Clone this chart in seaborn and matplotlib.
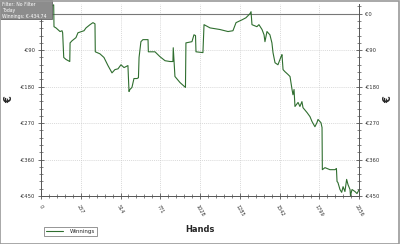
import matplotlib
matplotlib.use("Agg")
import matplotlib.pyplot as plt
import matplotlib.patches as mpatches
from matplotlib.ticker import AutoMinorLocator
import seaborn as sns
import pandas as pd

hands = [0, 20, 45, 65, 82, 84, 97, 123, 136, 140, 147, 162, 186, 188, 200, 226, 239, 278, 291, 317,
         336, 349, 351, 381, 407, 433, 459, 478, 498, 517, 537, 562, 569, 575, 588, 601, 621, 630,
         634, 646, 659, 692, 694, 737, 769, 802, 834, 853, 855, 866, 899, 934, 937, 976, 989, 999,
         1002, 1047, 1054, 1093, 1157, 1209, 1241, 1261, 1300, 1325, 1351, 1358, 1364, 1396, 1409,
         1429, 1442, 1448, 1461, 1468, 1480, 1493, 1500, 1513, 1532, 1552, 1558, 1565, 1577, 1597,
         1610, 1623, 1629, 1636, 1642, 1662, 1674, 1687, 1694, 1720, 1739, 1752, 1771, 1784, 1791,
         1810, 1817, 1819, 1836, 1868, 1901, 1910, 1914, 1920, 1933, 1944, 1953, 1965, 1976, 1985,
         1998, 2001, 2011, 2030, 2043, 2056]
winnings = [0, 5, 12, 18, 22, -32, -35, -44, -42, -47, -108, -113, -118, -72, -67, -59, -47, -42, -35, -27,
            -22, -25, -94, -99, -108, -128, -146, -138, -136, -126, -133, -128, -192, -187, -182, -160, -160, -158,
            -108, -69, -64, -64, -94, -94, -106, -116, -118, -118, -84, -155, -170, -182, -72, -69, -52, -54,
            -94, -96, -27, -35, -39, -44, -42, -22, -15, -10, 0, 5, -27, -32, -27,
            -39, -52, -69, -44, -47, -52, -72, -96, -121, -126, -106, -101, -138, -143, -150,
            -155, -187, -200, -187, -229, -219, -229, -217, -232, -244, -254, -266, -279, -269, -261,
            -269, -281, -385, -380, -385, -385, -382, -414, -417, -434, -441, -427, -439, -409, -422,
            -434, -449, -434, -439, -444, -434.74]

xticks = [0, 257, 514, 771, 1028, 1285, 1542, 1799, 2056]
yticks = [0, -90, -180, -270, -360, -450]
ytick_labels = ["€0", "-€90", "-€180", "-€270", "-€360", "-€450"]
series_name = "Winnings"
info_lines = ["Filter: No Filter", "Today", "Winnings: €-434.74"]

df = pd.DataFrame({"Hands": hands, "Winnings": winnings})

sns.set_theme(style="white")
plt.rcParams['font.family'] = ['DejaVu Sans']
plt.rcParams['axes.unicode_minus'] = False

fig = plt.figure(figsize=(4.0, 2.44), dpi=100)
ax = fig.add_axes([41/400, 48/244, 318/400, 192/244])

sns.lineplot(data=df, x="Hands", y="Winnings", ax=ax, color="#2f6e2f", linewidth=0.8,
             label=series_name, legend=False)

ax.set_xlim(0, 2056)
ax.set_ylim(-450, 24)
ax.axhline(0, color="#777777", linewidth=0.8, zorder=1)

ax.set_xticks(xticks)
ax.set_xticklabels([str(t) for t in xticks], rotation=-60, ha="center", va="top",
                   fontsize=3.6, color="#333333")
ax.set_yticks(yticks)
ax.set_yticklabels(ytick_labels, fontsize=3.8, color="#333333")
ax.xaxis.set_minor_locator(AutoMinorLocator(5))
ax.yaxis.set_minor_locator(AutoMinorLocator(5))
ax.tick_params(axis="both", which="major", direction="inout", length=4, width=0.6, color="#555555", pad=2)
ax.tick_params(axis="x", which="major", pad=4)
ax.tick_params(axis="both", which="minor", direction="inout", length=2.5, width=0.5, color="#555555")
ax.tick_params(axis="y", which="both", left=True, right=True, labelleft=True, labelright=True)
ax.tick_params(axis="x", which="both", bottom=True)

ax.grid(True, which="major", linestyle=(0, (1.5, 1.5)), color="#cccccc", linewidth=0.5)
ax.spines["top"].set_visible(False)
for side in ["left", "right", "bottom"]:
    ax.spines[side].set_color("#555555")
    ax.spines[side].set_linewidth(0.7)

ax.set_xlabel("Hands", fontsize=6, fontweight="bold", labelpad=5)
ax.set_ylabel("")
ax.text((9 - 41) / 318, 0.5, "€", transform=ax.transAxes, fontsize=7, fontweight="bold",
        rotation=90, ha="center", va="center")
ax.text((388 - 41) / 318, 0.5, "€", transform=ax.transAxes, fontsize=7, fontweight="bold",
        rotation=90, ha="center", va="center")

# legend at bottom
handles, labels = ax.get_legend_handles_labels()
leg = fig.legend(handles, labels, loc="lower left", bbox_to_anchor=(41/400, 5/244),
                 fontsize=4, frameon=True, fancybox=False, handlelength=3, borderpad=0.4,
                 handletextpad=1.2)
leg.get_frame().set_edgecolor("#666666")
leg.get_frame().set_linewidth(0.6)

# info box top-left
box = mpatches.Rectangle((0, 225/244), 52/400, 19/244, transform=fig.transFigure,
                         facecolor="#8c8c8c", edgecolor="#666666", linewidth=0.6, zorder=10)
fig.patches.append(box)
for i, line in enumerate(info_lines):
    fig.text(2/400, (242 - i * 6)/244, line, fontsize=3.3, color="white", va="top", ha="left", zorder=11)

# outer border
border = mpatches.Rectangle((0.001, 0.002), 0.997, 0.995, transform=fig.transFigure,
                            facecolor="none", edgecolor="#999999", linewidth=1.2, zorder=12)
fig.patches.append(border)

fig.savefig("out.png", dpi=100)
